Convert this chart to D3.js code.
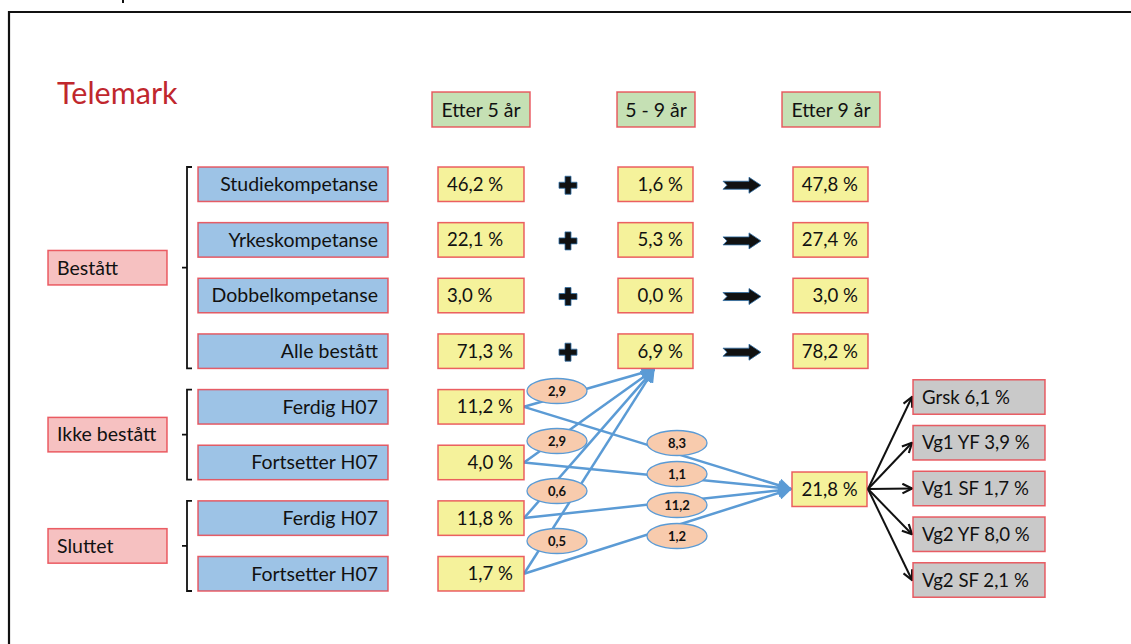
<!DOCTYPE html>
<meta charset="utf-8">
<style>
  body { margin: 0; background: #fff; }
  text { font-family: Lato, "Open Sans", sans-serif; fill: #111; }
</style>
<svg width="1131" height="644"></svg>
<script src="https://d3js.org/d3.v7.min.js"></script>
<script>

var rowLabels = ["Studiekompetanse", "Yrkeskompetanse", "Dobbelkompetanse", "Alle bestått",
                 "Ferdig H07", "Fortsetter H07", "Ferdig H07", "Fortsetter H07"];
var groupNames = ["Bestått", "Ikke bestått", "Sluttet"];
var groupFirst = [0, 4, 6];
var groupLast = [3, 5, 7];
var headers = ["Etter 5 år", "5 - 9 år", "Etter 9 år"];
var etter5 = [46.2, 22.1, 3.0, 71.3, 11.2, 4.0, 11.8, 1.7];
var mellom = [1.6, 5.3, 0.0, 6.9];
var etter9 = [47.8, 27.4, 3.0, 78.2];
var tilBestatt = [2.9, 2.9, 0.6, 0.5];
var tilIkkeBestatt = [8.3, 1.1, 11.2, 1.2];
var ikkeBestattTotal = 21.8;
var utfallLabels = ["Grsk", "Vg1 YF", "Vg1 SF", "Vg2 YF", "Vg2 SF"];
var utfallValues = [6.1, 3.9, 1.7, 8.0, 2.1];

var svg = d3.select("svg");

var num = function(v) { return d3.format(".1f")(v).replace(".", ","); },
    pct = function(v) { return num(v) + " %"; };

var y = d3.scaleBand()
    .domain(d3.range(rowLabels.length))
    .range([167, 591])
    .paddingInner(0.38);
var bh = y.bandwidth(),
    cy = function(i) { return y(i) + bh / 2; };

// column left edges and widths
var colX = d3.scaleOrdinal().domain(["label", "c1", "c2", "c3"]).range([198, 438, 618, 793]),
    colW = d3.scaleOrdinal().domain(["label", "c1", "c2", "c3"]).range([190, 86, 75, 75]);

var red = "#e8444c",
    labelSize = "19.5px",
    valueSize = "18.6px";

// frame
svg.append("path")
    .attr("d", "M9,700V12H1140")
    .attr("fill", "none").attr("stroke", "#111").attr("stroke-width", 2.2);
svg.append("line").attr("x1", 123).attr("x2", 123).attr("y1", 0).attr("y2", 3)
    .attr("stroke", "#111").attr("stroke-width", 2);

svg.append("text")
    .attr("x", 57).attr("y", 104)
    .style("font-size", "30.5px").style("fill", "#c0272d")
    .text("Telemark");

function box(g, x, yy, w, h, fill) {
  return g.append("rect")
      .attr("x", x).attr("y", yy).attr("width", w).attr("height", h)
      .attr("fill", fill).attr("stroke", red).attr("stroke-opacity", 0.85).attr("stroke-width", 1.5);
}

// headers
var hx = [432, 617, 782], hw = [98, 78, 98];
headers.forEach(function(h, i) {
  box(svg, hx[i], 92, hw[i], 35, "#c5e0b4");
  svg.append("text").attr("x", hx[i] + hw[i] / 2).attr("y", 110)
      .attr("text-anchor", "middle").attr("dy", "0.35em")
      .style("font-size", labelSize).text(h);
});

// row labels
rowLabels.forEach(function(l, i) {
  box(svg, colX("label"), y(i), colW("label"), bh, "#9dc3e6");
  svg.append("text").attr("x", colX("label") + colW("label") - 10).attr("y", cy(i))
      .attr("dy", "0.35em").attr("text-anchor", "end")
      .style("font-size", labelSize).text(l);
});

// groups and brackets
groupNames.forEach(function(n, i) {
  var top = y(groupFirst[i]), bot = y(groupLast[i]) + bh, mid = (top + bot) / 2;
  box(svg, 48, mid - bh / 2, 119, bh, "#f6c1c1");
  svg.append("text").attr("x", 57).attr("y", mid).attr("dy", "0.35em")
      .style("font-size", labelSize).text(n);
  svg.append("path")
      .attr("d", "M192," + top + "H187V" + bot + "H192M187," + mid + "H182")
      .attr("fill", "none").attr("stroke", "#111").attr("stroke-width", 1.8);
});

// blue flow lines (drawn before the value boxes)
var srcX = colX("c1") + colW("c1"),
    tgtA = [654, y(3) + bh + 1],
    tgtB = [791, 489];

var defs = svg.append("defs");
defs.append("marker").attr("id", "blue").attr("viewBox", "0 0 10 10")
    .attr("refX", 9).attr("refY", 5).attr("markerWidth", 14).attr("markerHeight", 14)
    .attr("markerUnits", "userSpaceOnUse").attr("orient", "auto")
  .append("path").attr("d", "M0,0L10,5L0,10Z").attr("fill", "#5b9bd5");
defs.append("marker").attr("id", "black").attr("viewBox", "0 0 10 10")
    .attr("refX", 9).attr("refY", 5).attr("markerWidth", 12).attr("markerHeight", 12)
    .attr("markerUnits", "userSpaceOnUse").attr("orient", "auto")
  .append("path").attr("d", "M1,1L9,5L1,9").attr("fill", "none").attr("stroke", "#111").attr("stroke-width", 1.8);

var lower = d3.range(4, 8);
var flows = svg.append("g").attr("stroke", "#5b9bd5").attr("stroke-width", 2.5).attr("fill", "none");
lower.forEach(function(r) {
  [tgtA, tgtB].forEach(function(t) {
    flows.append("line").attr("x1", srcX).attr("y1", cy(r))
        .attr("x2", t[0]).attr("y2", t[1]).attr("marker-end", "url(#blue)");
  });
});

// value boxes
etter5.forEach(function(v, i) {
  box(svg, colX("c1"), y(i), colW("c1"), bh, "#f5f29b");
  var left = i < 3;
  svg.append("text")
      .attr("x", left ? colX("c1") + 9 : colX("c1") + colW("c1") - 11)
      .attr("y", cy(i)).attr("dy", "0.35em")
      .attr("text-anchor", left ? "start" : "end")
      .style("font-size", valueSize).text(pct(v));
});
[["c2", mellom], ["c3", etter9]].forEach(function(c) {
  c[1].forEach(function(v, i) {
    box(svg, colX(c[0]), y(i), colW(c[0]), bh, "#f5f29b");
    svg.append("text").attr("x", colX(c[0]) + colW(c[0]) - 10).attr("y", cy(i))
        .attr("dy", "0.35em").attr("text-anchor", "end")
        .style("font-size", valueSize).text(pct(v));
  });
});

// plus signs and fat arrows
mellom.forEach(function(v, i) {
  var py = cy(i) + 1;
  svg.append("path")
      .attr("d", "M-3,-9H3V-3H9V3H3V9H-3V3H-9V-3H-3Z")
      .attr("transform", "translate(568," + py + ")")
      .attr("fill", "#111").attr("stroke", "#2e6da4").attr("stroke-width", 0.8);
  svg.append("path")
      .attr("d", "M0,-4H26V-8L38,0L26,8V4H0L4,0Z")
      .attr("transform", "translate(723," + py + ")")
      .attr("fill", "#111").attr("stroke", "#2e6da4").attr("stroke-width", 0.8);
});

// ellipses on the flows
var e1 = d3.scaleLinear().domain([0, 3]).range([391, 541]),
    e2 = d3.scaleLinear().domain([0, 3]).range([443, 536]);
[[557, e1, tilBestatt], [677, e2, tilIkkeBestatt]].forEach(function(c) {
  c[2].forEach(function(v, i) {
    svg.append("ellipse").attr("cx", c[0]).attr("cy", c[1](i)).attr("rx", 30).attr("ry", 12.5)
        .attr("fill", "#f8cbad").attr("stroke", "#5b9bd5").attr("stroke-width", 1.3);
    svg.append("text").attr("x", c[0]).attr("y", c[1](i)).attr("dy", "0.35em")
        .attr("text-anchor", "middle").style("font-size", "13px").style("font-weight", "bold")
        .text(num(v));
  });
});

// total not passed
box(svg, 792, 472, 75, bh, "#f5f29b");
svg.append("text").attr("x", 829.5).attr("y", 489).attr("dy", "0.35em")
    .attr("text-anchor", "middle").style("font-size", valueSize).text(pct(ikkeBestattTotal));

// outcomes
var oy = d3.scalePoint().domain(d3.range(utfallLabels.length)).range([397, 580]);
utfallLabels.forEach(function(l, i) {
  svg.append("line").attr("x1", 868).attr("y1", 489).attr("x2", 912).attr("y2", oy(i))
      .attr("stroke", "#111").attr("stroke-width", 2).attr("marker-end", "url(#black)");
  box(svg, 913, oy(i) - bh / 2, 132, bh, "#c9c9c9");
  svg.append("text").attr("x", 922).attr("y", oy(i)).attr("dy", "0.35em")
      .style("font-size", valueSize).text(l + " " + pct(utfallValues[i]));
});

</script>
